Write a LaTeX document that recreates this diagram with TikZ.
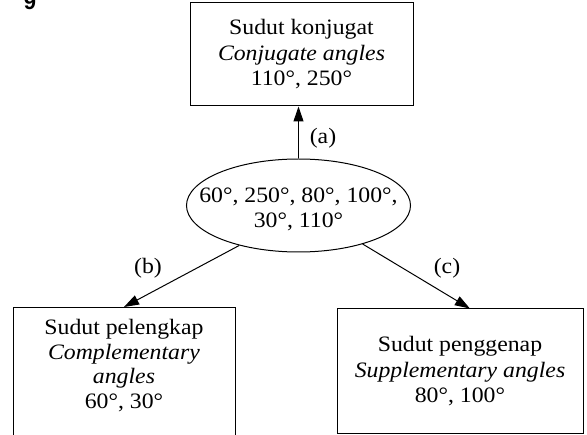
\documentclass[tikz,border=0pt]{standalone}
\usepackage{fontspec}
\setmainfont[FakeStretch=1.08]{Liberation Serif}
\newfontfamily\numfont{Liberation Sans}
\usetikzlibrary{arrows.meta,shapes.geometric,calc}
\begin{document}
\begin{tikzpicture}[x=1pt,y=-1pt,
  box/.style={draw, line width=1pt, rectangle, inner sep=0pt},
  txt/.style={align=center, font=\fontsize{22}{25.5}\selectfont, inner sep=0pt},
  lbl/.style={font=\fontsize{22}{25.5}\selectfont, inner sep=0pt},
  arr/.style={line width=1pt, -{Triangle[length=15pt,width=10pt]}}]
\useasboundingbox (0,0) rectangle (587,435);
\clip (0,0) rectangle (587,435);
% question number (cut off at top)
\node[font=\numfont\bfseries\fontsize{22}{22}\selectfont, anchor=base, inner sep=0pt] (num) at (30,10) {9};
% top box
\node[box, txt, minimum width=223pt, minimum height=103pt] (top) at (301.5,54.5)
  {Sudut konjugat\\\textit{Conjugate angles}\\110°, 250°};
% ellipse
\node[draw, ellipse, line width=1pt, minimum width=224pt, minimum height=93pt, inner sep=0pt] (e) at (298.5,205.5) {};
\node[txt] (etxt) at (298.5,209.5) {60°, 250°, 80°, 100°,\\30°, 110°};
% bottom left box (cut off at bottom)
\node[box, anchor=north, minimum width=222pt, minimum height=150pt] (lb) at (124,307) {};
\node[txt, font=\fontsize{22}{24.5}\selectfont] (lbtxt) at (124,365.5)
  {Sudut pelengkap\\\textit{Complementary}\\\textit{angles}\\60°, 30°};
% bottom right box
\node[box, txt, minimum width=246pt, minimum height=125pt] (rb) at (460,371.5)
  {Sudut penggenap\\\textit{Supplementary angles}\\80°, 100°};
% connectors
\draw[arr] (e.north) -- (e.north |- top.south);
\draw[arr] (e.214) -- (lb.north);
\draw[arr] (e.329) -- ($(rb.north west)!0.54!(rb.north east)$);
% labels
\node[lbl] (la) at (323,138) {(a)};
\node[lbl] (lbb) at (148,268) {(b)};
\node[lbl] (lc) at (447,268) {(c)};
\end{tikzpicture}
\end{document}
